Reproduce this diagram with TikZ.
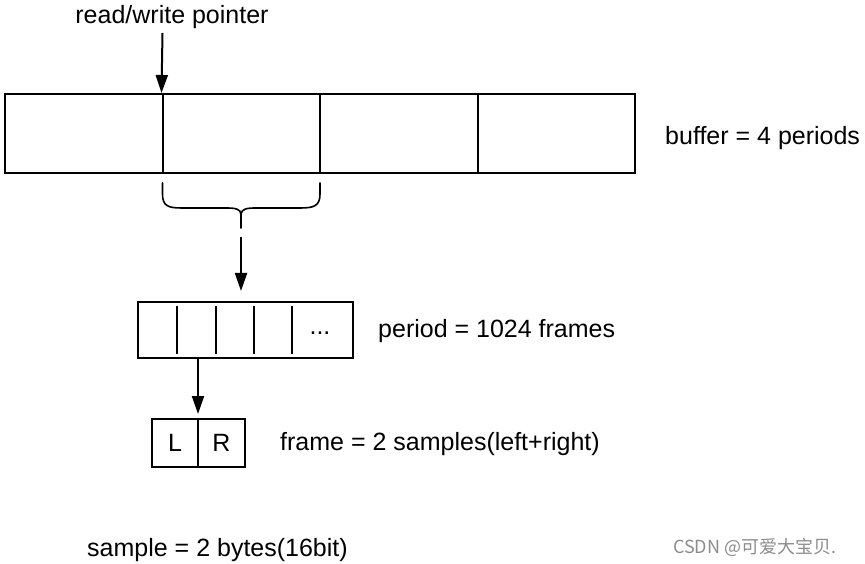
\documentclass[tikz,border=0pt]{standalone}
\usepackage{fontspec}
\setmainfont{Liberation Sans}
\newfontfamily\cjk{Noto Sans CJK SC}
\usetikzlibrary{calc,positioning,arrows.meta}

\begin{document}
\begin{tikzpicture}[
            x=1pt, y=-1pt,
            every node/.append style={black,font=\fontsize{25}{30}\selectfont},
            cell/.style={draw,line width=2pt,inner sep=0pt,minimum width=157.5pt,minimum height=79pt},
            half/.style={draw,line width=2pt,inner sep=0pt,outer sep=0pt,minimum height=48pt},
            link/.style={line width=2pt,-{Triangle[width=12pt,length=18pt]}},
            brace/.style={line width=1.6pt,line cap=round},
            lbl/.style={anchor=west,inner sep=0pt}
        ]
            \useasboundingbox (0,0) rectangle (865,564);

            % buffer
            \foreach \i in {1,...,4}
                \node[cell] (buf\i) at ({5+157.5*(\i-0.5)},133.5) {};
            \node[lbl] (buflabel) at (665,138) {buffer = 4 periods};

            \node (ptrlabel) at (172,17) {read/write pointer};
            \coordinate (ptrtail) at (162.5,33);
            \draw[link] (ptrtail) -- (buf2.north west);

            % brace under the second period
            \draw[brace] (162.5,183) -- (162.5,194)
                .. controls (162.5,206) and (168,208) .. (182,208) -- (226,208)
                .. controls (236,208) and (240,209) .. (241,214)
                .. controls (242,209) and (246,208) .. (256,208) -- (300,208)
                .. controls (314,208) and (320,206) .. (320,194) -- (320,183);
            \coordinate (bracetip) at (241,214);
            \draw[brace] (bracetip) -- ++(0,14);
            \coordinate (bracearrow) at (241,237);

            % period
            \node[draw,line width=2pt,inner sep=0pt,minimum width=215pt,minimum height=56pt] (period) at (245.5,330) {};
            \foreach \d in {40,79,117,155}
                \draw[line width=2pt] ($(period.north west)+(\d,5)$) -- ($(period.south west)+(\d,-5)$);
            \node (dots) at (320,333) {...};
            \node[lbl] (periodlabel) at (378,331) {period = 1024 frames};
            \draw[link,shorten >=10pt] (bracearrow) -- (bracearrow |- period.north);

            % frame
            \node[half,minimum width=46pt] (lbox) at (175,443) {L};
            \node[half,minimum width=47pt,right=0pt of lbox] (rbox) {R};
            \node[lbl] (framelabel) at (280,444) {frame = 2 samples(left+right)};
            \draw[link,shorten >=5pt] (period.south -| lbox.east) -- (lbox.north east);

            \node[lbl] (samplelabel) at (87,550) {sample = 2 bytes(16bit)};
            \node[lbl,text=black!45,font=\cjk\fontsize{18}{22}\selectfont] (mark) at (673,547) {CSDN @可爱大宝贝.};
        \end{tikzpicture}
\end{document}
